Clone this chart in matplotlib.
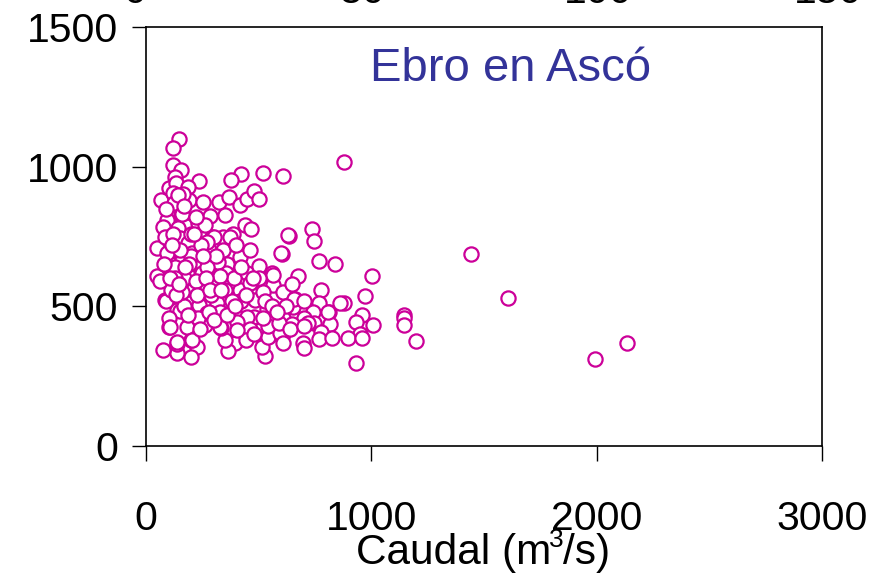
import numpy as np
from matplotlib import pyplot as plt

plt.rcParams["font.family"] = ["Liberation Sans", "DejaVu Sans"]

caudal = [
    879, 608, 519, 421, 377, 737, 746, 635, 1443, 604, 768, 839, 675, 1003, 777, 972,
    1607, 661, 879, 768, 652, 741, 812, 959, 1145, 1145, 608, 701, 817, 932, 1008, 1145,
    648, 746, 777, 950, 608, 768, 826, 897, 959, 697, 1198, 701, 932, 1993, 2135, 528,
    515, 546, 582, 479, 448, 395, 364, 351, 333, 262, 399, 226, 200, 138, 138, 75,
    200, 102, 191, 191, 138,
    146, 120, 120, 155, 235, 129, 102, 133, 186, 67, 120, 124, 191, 164, 253, 324,
    368, 417, 448, 479, 502, 155, 284, 351, 93, 178, 231, 439, 466, 630, 75, 142,
    293, 342, 386,
    49, 84, 151, 186, 120, 204, 262, 302, 373, 373, 417, 360, 262, 151, 102, 49,
    107, 182, 253, 306, 355, 448, 502, 559, 599, 129, 204, 249, 315, 417, 497, 564,
    608, 84, 182, 235, 315, 373, 417, 484, 537, 151, 271, 448, 573, 102, 107, 182,
    328, 404, 462, 541, 138, 204, 444, 595, 608, 404, 89, 564, 519, 462, 861, 808,
    657,
    95, 130, 170, 210, 240, 280, 320, 160, 200, 260, 110, 60, 290, 330, 230, 170,
    120, 200, 250, 300, 350, 390, 420, 380, 150, 90, 140, 170, 220, 270, 340, 400,
    190, 220, 270, 130, 80, 160, 330, 280, 240, 300, 360, 420, 460, 500, 530, 560,
    620, 650, 700, 720, 540, 480, 590, 640, 700, 115, 175, 225, 265, 310, 135, 185,
    245, 285, 105, 145, 215, 255, 335, 395, 445, 475, 520, 580,
]
valor = [
    1017, 967, 977, 974, 952, 777, 734, 752, 687, 687, 662, 652, 609, 609, 559, 537,
    531, 526, 512, 512, 498, 480, 480, 469, 469, 458, 458, 458, 437, 444, 433, 433,
    437, 440, 408, 401, 401, 383, 387, 387, 387, 369, 376, 351, 297, 311, 369, 322,
    355, 394, 433, 462, 412, 369, 340, 380, 423, 433, 465, 355, 319, 333, 365, 344,
    380, 426, 430, 473, 487,
    1099, 1067, 1006, 988, 949, 963, 924, 942, 927, 880, 906, 870, 880, 902, 874, 874,
    891, 863, 884, 913, 884, 827, 824, 827, 809, 788, 798, 791, 777, 755, 784, 781,
    748, 748, 759,
    709, 748, 745, 727, 702, 691, 712, 748, 748, 695, 677, 652, 659, 655, 655, 609,
    605, 619, 605, 612, 619, 619, 644, 619, 691, 548, 584, 569, 577, 559, 548, 577,
    551, 523, 523, 505, 512, 494, 519, 523, 491, 484, 476, 462, 462, 458, 426, 426,
    426, 444, 419, 390, 373, 380, 380, 404, 369, 415, 519, 612, 551, 584, 512, 480,
    526,
    690, 640, 600, 560, 640, 700, 660, 830, 760, 790, 560, 590, 540, 480, 460, 500,
    760, 680, 620, 590, 560, 600, 520, 520, 700, 850, 900, 860, 820, 730, 700, 720,
    650, 590, 640, 600, 650, 550, 610, 480, 420, 450, 470, 640, 700, 600, 520, 500,
    500, 580, 520, 440, 430, 400, 440, 420, 430, 720, 640, 540, 600, 680, 540, 470,
    720, 560, 600, 580, 760, 680, 560, 500, 540, 600, 460, 480,
]

x_ticks = [0, 1000, 2000, 3000]
y_ticks = [0, 500, 1000, 1500]
top_labels = ["0", "50", "100", "150"]
top_label_x = [135, 362, 598, 828]

fig = plt.figure(figsize=(8.84, 5.78), dpi=100)
ax = fig.add_axes([146 / 884, 1 - 446 / 578, 676 / 884, 419 / 578])

ax.scatter(caudal, valor, s=105, facecolors="white", edgecolors="#CC0099", linewidths=1.6, zorder=3, clip_on=False)

ax.set_xlim(0, 3000)
ax.set_ylim(0, 1500)
ax.set_xticks(x_ticks)
ax.set_yticks(y_ticks)
ax.tick_params(axis="x", direction="out", length=11, width=1, labelsize=29.5, pad=28)
ax.tick_params(axis="y", direction="out", length=10, width=1, labelsize=29.5, pad=10)
for s in ax.spines.values():
    s.set_linewidth(1.2)

ax.text(0.54, 0.90, "Ebro en Ascó", transform=ax.transAxes, ha="center", va="center",
        fontsize=34, color="#333399")

# etiqueta del eje x con el 3 elevado aparte
fig.text(483 / 884, 1 - 553 / 578, "Caudal (m /s)", ha="center", va="center", fontsize=30.5)
fig.text(556 / 884, 1 - 540 / 578, "3", ha="center", va="center", fontsize=19)

# restos de etiquetas del grafico superior, cortadas
for lab, px in zip(top_labels, top_label_x):
    fig.text(px / 884, 1 - 3 / 578, lab, ha="center", va="baseline", fontsize=29.5)

fig.savefig("out.png", dpi=100)
